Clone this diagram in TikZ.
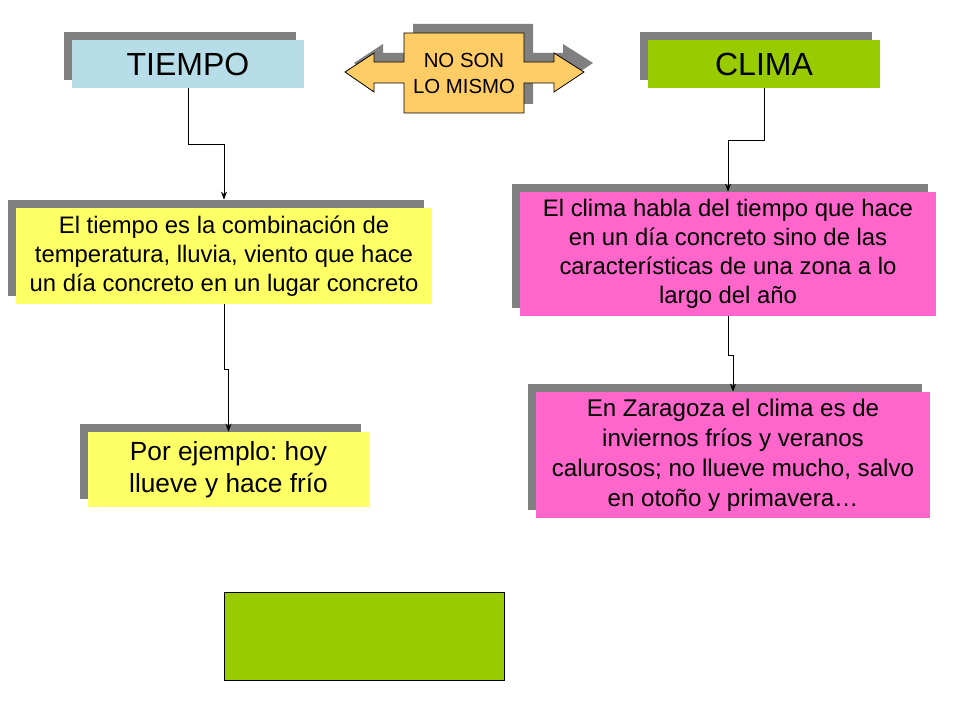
\documentclass[tikz,border=0pt]{standalone}
\usepackage{fontspec}
\setmainfont{Liberation Sans}
\usetikzlibrary{arrows,arrows.meta,shadows}
\definecolor{azul}{HTML}{B7DEE8}
\definecolor{verde}{HTML}{99CC00}
\definecolor{naranja}{HTML}{FFCC66}
\definecolor{amarillo}{HTML}{FFFF66}
\definecolor{rosa}{HTML}{FF66CC}
\definecolor{sombra}{HTML}{808080}
\frenchspacing

\begin{document}
\begin{tikzpicture}[x=0.75pt, y=-0.75pt, ->, >={Stealth[length=6pt, width=4.5pt]}, line width=0.6pt,
	box/.style={rectangle, inner sep=0pt, align=center, text=black,
		drop shadow={shadow xshift=-6pt, shadow yshift=6pt, fill=sombra, opacity=1}},
	title/.style={box, minimum width=174pt, minimum height=36pt, font=\fontsize{24}{28}\selectfont},
	texto/.style={box, font=\fontsize{17.9}{21.75}\selectfont}]

	\useasboundingbox (0,0) rectangle (960,720);

	\node[title, fill=azul] (tiempo) at (188,64) {TIEMPO};
	\node[title, fill=verde] (clima) at (764,64) {CLIMA};

	% flecha doble
	\def\flecha{(345,72) -- (374,53) -- (374,62) -- (404,62) -- (404,33) -- (524,33) -- (524,62) -- (554,62) -- (554,53) -- (584,72) -- (554,92) -- (554,83) -- (524,83) -- (524,113) -- (404,113) -- (404,83) -- (374,83) -- (374,92) -- cycle}
	\fill[-, sombra, shift={(9,-9)}] \flecha;
	\filldraw[-, fill=naranja, draw=black] \flecha;
	\node[align=center, font=\fontsize{15.3}{19.5}\selectfont] (noson) at (464,73) {NO SON\\LO MISMO};

	\node[texto, fill=amarillo, minimum width=312pt, minimum height=72pt] (deftiempo) at (224,256)
		{El tiempo es la combinación de\\temperatura, lluvia, viento que hace\\un día concreto en un lugar concreto};
	\node[texto, fill=rosa, minimum width=312pt, minimum height=93pt] (defclima) at (728,254)
		{El clima habla del tiempo que hace\\en un día concreto sino de las\\características de una zona a lo\\largo del año};
	\node[box, fill=amarillo, minimum width=211pt, minimum height=56pt, font=\fontsize{19.7}{24}\selectfont] (ejtiempo) at (228.5,469.5)
		{Por ejemplo: hoy\\llueve y hace frío};
	\node[texto, fill=rosa, minimum width=295.5pt, minimum height=94.5pt, font=\fontsize{18.1}{22.5}\selectfont] (ejclima) at (733,455)
		{En Zaragoza el clima es de\\inviernos fríos y veranos\\calurosos; no llueve mucho, salvo\\en otoño y primavera…};

	\node[draw=black, fill=verde, minimum width=210pt, minimum height=66pt] (vacio) at (364,636) {};

	\draw[shorten >=6pt] (tiempo.south) -- ++(0,56) -| (deftiempo.north);
	\draw (clima.south) -- ++(0,52) -| (defclima.north);
	\draw (deftiempo.south) -- ++(0,65) -| (ejtiempo.north);
	\draw (defclima.south) -- ++(0,39) -| (ejclima.north);

\end{tikzpicture}
\end{document}
